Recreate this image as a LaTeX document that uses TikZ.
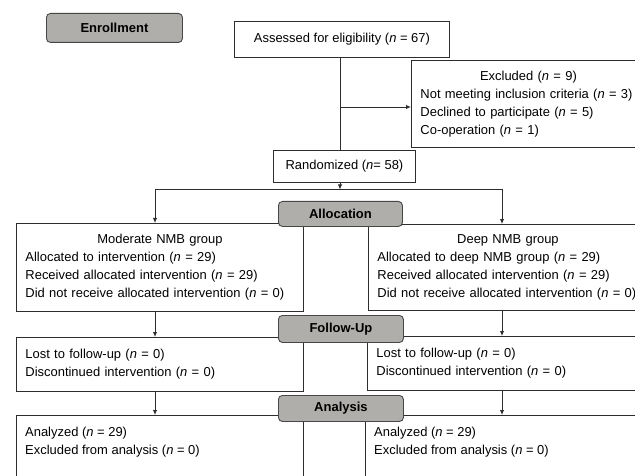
\documentclass[tikz,border=0pt]{standalone}
\usepackage{fontspec}
\setmainfont{Liberation Sans}
\usetikzlibrary{arrows.meta}
\definecolor{labfill}{RGB}{176,174,171}
\definecolor{linecol}{RGB}{45,45,45}
\definecolor{labline}{RGB}{70,70,70}
\newcommand{\nn}{\textit{n}}
\begin{document}
\begin{tikzpicture}[x=1pt,y=-1pt,
  every node/.style={font=\fontsize{12.95}{18}\selectfont},
  box/.style={draw=linecol, line width=0.9pt, fill=white, rectangle, inner sep=0pt, anchor=north west},
  txtbox/.style={box, inner xsep=9pt, inner ysep=0pt, align=left},
  txt/.style={inner sep=0pt, align=left, anchor=north west},
  lab/.style={draw=labline, fill=labfill, rounded corners=4pt, line width=0.9pt,
    font=\bfseries\fontsize{13}{15}\selectfont, anchor=north west, inner sep=0pt},
  conn/.style={draw=linecol, line width=0.9pt},
  arr/.style={conn, -{Latex[length=5pt,width=4.5pt]}}]
\useasboundingbox (0,0) rectangle (635,476);
\clip (0,0) rectangle (635,476);

% Enrollment
\node[lab, minimum width=136pt, minimum height=29pt] (enr) at (46,13) {Enrollment};
\node[box, minimum width=215pt, minimum height=36pt] (ass) at (234,21) {Assessed for eligibility (\nn{} = 67)};
\node[txtbox, text width=250pt, minimum width=268pt, minimum height=87pt] (exc) at (411,60)
  {\makebox[216pt]{Excluded (\nn{} = 9)}\\Not meeting inclusion criteria (\nn{} = 3)\\Declined to participate (\nn{} = 5)\\Co-operation (\nn{} = 1)};
\node[box, minimum width=142pt, minimum height=32pt] (rand) at (273,150) {Randomized (\nn{}= 58)};

% Allocation
\node[txtbox, text width=269pt, minimum width=287pt, minimum height=88pt] (mod) at (16,223)
  {\makebox[269pt]{Moderate NMB group}\\Allocated to intervention (\nn{} = 29)\\Received allocated intervention (\nn{} = 29)\\Did not receive allocated intervention (\nn{} = 0)};
\node[txtbox, text width=290pt, minimum width=308pt, minimum height=86pt] (deep) at (368,224)
  {\makebox[261pt]{Deep NMB group}\\Allocated to deep NMB group (\nn{} = 29)\\Received allocated intervention (\nn{} = 29)\\Did not receive allocated intervention (\nn{} = 0)};

% Follow-up
\node[txtbox, text width=269pt, minimum width=287pt, minimum height=54pt] (fuL) at (16,337)
  {Lost to follow-up (\nn{} = 0)\\Discontinued intervention (\nn{} = 0)};
\node[txtbox, text width=262pt, minimum width=280pt, minimum height=54pt] (fuR) at (367,336)
  {Lost to follow-up (\nn{} = 0)\\Discontinued intervention (\nn{} = 0)};

% Analysis
\node[box, minimum width=287pt, minimum height=80pt] (anL) at (16,415) {};
\node[box, minimum width=282pt, minimum height=80pt] (anR) at (365,415) {};
\node[txt] (anLt) at (25,427) {Analyzed (\nn{} = 29)\\Excluded from analysis (\nn{} = 0)};
\node[txt] (anRt) at (374,427) {Analyzed (\nn{} = 29)\\Excluded from analysis (\nn{} = 0)};

% connectors
\coordinate (trunk) at (340,0);
\coordinate (branch) at (340,107);
\coordinate (split) at (340,189.5);
\coordinate (colL) at (155,189.5);
\coordinate (colR) at (502,189.5);
\draw[conn] (ass.south -| trunk) -- (rand.north -| trunk);
\draw[arr] (branch) -- (branch -| exc.west);
\draw[arr] (rand.south -| trunk) -- (split);
\draw[conn] (colL) -- (colR);
\draw[arr] (colL) -- (colL |- mod.north);
\draw[arr] (colR) -- (colR |- deep.north);
\draw[arr] (colL |- mod.south) -- (colL |- fuL.north);
\draw[arr] (colR |- deep.south) -- (colR |- fuR.north);
\draw[arr] (colL |- fuL.south) -- (colL |- anL.north);
\draw[arr] (colR |- fuR.south) -- (colR |- anR.north);

% stage labels on top
\node[lab, minimum width=124pt, minimum height=25pt] (alloc) at (278,201) {Allocation};
\node[lab, minimum width=125pt, minimum height=27pt] (follow) at (278,315) {Follow-Up};
\node[lab, minimum width=125pt, minimum height=26pt] (anal) at (278,395) {Analysis};
\end{tikzpicture}
\end{document}
